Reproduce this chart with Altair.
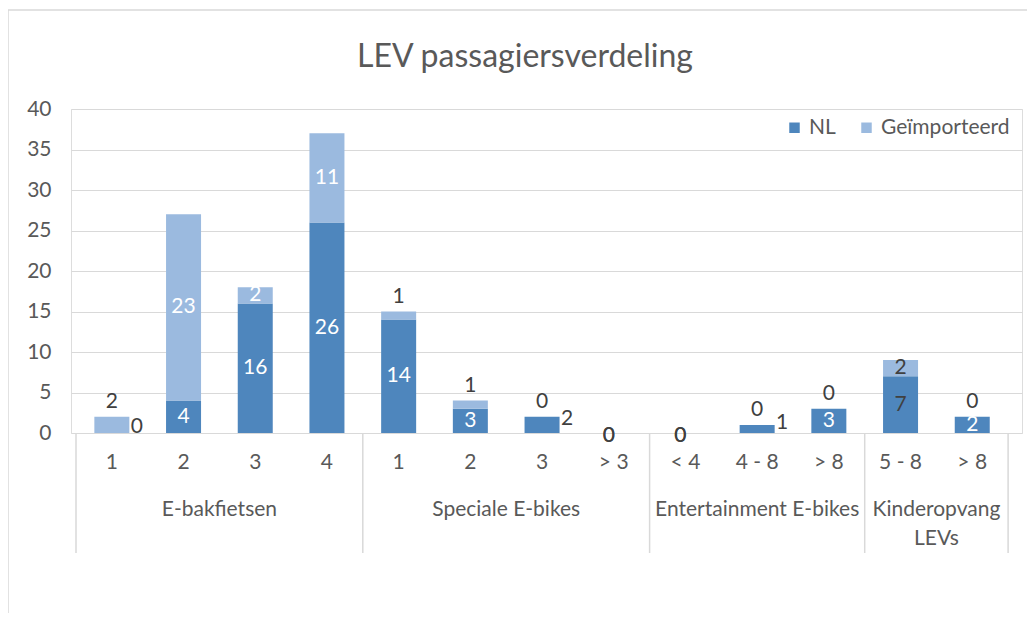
import altair as alt
import pandas as pd

TITLE = "LEV passagiersverdeling"
groups = ["E-bakfietsen", "Speciale E-bikes", "Entertainment E-bikes", "Kinderopvang\nLEVs"]
group_sizes = [4, 4, 3, 2]
subcats = ["1", "2", "3", "4", "1", "2", "3", "> 3", "< 4", "4 - 8", "> 8", "5 - 8", "> 8"]
series = ["NL", "Geïmporteerd"]
nl = [0, 4, 16, 26, 14, 3, 2, 0, 0, 1, 3, 7, 2]
imp = [2, 23, 2, 11, 1, 1, 0, 0, 0, 0, 0, 2, 0]
# label placement style per bar (mimicking the Excel layout)
nl_mode = ["right", "in", "in", "in", "in", "in", "right", "base", "base", "right", "in", "in_dark", "in"]
imp_mode = ["above", "in", "in", "in", "above", "above", "above", "base", "base", "above", "above", "in_dark", "above"]

colors = ["#4E86BD", "#9BBADF"]
TXT = "#595959"
DARK = "#404040"
GRID = "#D9D9D9"
FONT = "Lato"
FS = 21
W, H = 951, 324
PADL, PADT = 63, 101

n = len(subcats)
rows = []
lab = []
for i in range(n):
    rows.append({"idx": i, "series": "NL", "y0": 0, "y1": nl[i], "ord": 0})
    rows.append({"idx": i, "series": "Geïmporteerd", "y0": nl[i], "y1": nl[i] + imp[i], "ord": 1})
    for val, base, mode in ((nl[i], 0, nl_mode[i]), (imp[i], nl[i], imp_mode[i])):
        if mode in ("in", "in_dark", "right"):
            pos = base + val / 2
        elif mode == "above":
            pos = nl[i] + imp[i]
        else:
            pos = 0
        lab.append({"idx": i, "text": str(val), "pos": pos, "mode": mode})
bars = pd.DataFrame(rows)
labels = pd.DataFrame(lab)
ticks = pd.DataFrame({"idx": list(range(n)), "sub": subcats})

centers, bounds = [], [-0.5]
start = 0
for g, s in zip(groups, group_sizes):
    centers.append(start + (s - 1) / 2)
    start += s
    bounds.append(start - 0.5)
grp = pd.DataFrame({"center": centers, "name": groups})
sep = pd.DataFrame({"b": bounds})

# category bands are 72.5px; the gridlines run a little past the last band
xscale = alt.Scale(domain=[-0.5, n - 0.5 + 9 / 72.5], nice=False, zero=False)
yscale = alt.Scale(domain=[0, 40], nice=False)

base_bar = alt.Chart(bars).mark_bar(size=35).encode(
    x=alt.X("idx:Q", scale=xscale, axis=None),
    y=alt.Y("y0:Q", scale=yscale, title=None,
            axis=alt.Axis(values=list(range(0, 41, 5)), domain=False, ticks=False,
                          labelFontSize=FS, labelColor=TXT, labelPadding=20,
                          gridColor=GRID, gridWidth=1.2, labelFont=FONT)),
    y2="y1:Q",
    color=alt.Color("series:N", scale=alt.Scale(domain=series, range=colors),
                    legend=alt.Legend(title=None, orient="none", legendX=713, legendY=8,
                                      direction="horizontal", symbolType="square",
                                      symbolSize=110, symbolStrokeWidth=0,
                                      labelFontSize=FS, labelColor=TXT, labelFont=FONT,
                                      columnPadding=20, symbolOffset=0)),
    order="ord:Q",
)

def text_layer(mode, color, dx=0, dy=0, align="center"):
    return alt.Chart(labels).transform_filter(alt.datum.mode == mode).mark_text(
        fontSize=FS, font=FONT, color=color, dx=dx, dy=dy, align=align, baseline="middle"
    ).encode(
        x=alt.X("idx:Q", scale=xscale, axis=None),
        y=alt.Y("pos:Q", scale=yscale),
        text="text:N",
    )

t_in = text_layer("in", "white")
t_in_dark = text_layer("in_dark", DARK)
t_above = text_layer("above", DARK, dy=-15)
t_right = text_layer("right", DARK, dx=25, dy=-6)
t_base = text_layer("base", DARK, dx=-5, dy=3)

tick_txt = alt.Chart(ticks).mark_text(fontSize=FS, font=FONT, color=TXT, baseline="middle").encode(
    x=alt.X("idx:Q", scale=xscale, axis=None), y=alt.value(H + 30), text="sub:N")

grp_txt = alt.Chart(grp).mark_text(fontSize=FS, font=FONT, color=TXT, baseline="top",
                                   lineBreak="\n", lineHeight=29).encode(
    x=alt.X("center:Q", scale=xscale, axis=None), y=alt.value(H + 66), text="name:N")

sep_rule = alt.Chart(sep).mark_rule(color=GRID, strokeWidth=1.5).encode(
    x=alt.X("b:Q", scale=xscale, axis=None), y=alt.value(H), y2=alt.value(H + 120))

title_txt = alt.Chart(pd.DataFrame({"t": [TITLE]})).mark_text(
    fontSize=32, font=FONT, color=TXT, baseline="middle").encode(
    x=alt.value(454), y=alt.value(-52), text="t:N")

frame_left = alt.Chart(pd.DataFrame({"a": [0]})).mark_rule(color=GRID, strokeWidth=1.5).encode(
    x=alt.value(-PADL), y=alt.value(-99), y2=alt.value(H + 230))
frame_top = alt.Chart(pd.DataFrame({"a": [0]})).mark_rule(color=GRID, strokeWidth=1.5).encode(
    x=alt.value(-PADL), x2=alt.value(W + 20), y=alt.value(-99))

chart = alt.layer(
    frame_left, frame_top, title_txt, sep_rule, base_bar,
    t_in, t_in_dark, t_above, t_right, t_base, tick_txt, grp_txt
).properties(
    width=W, height=H,
    autosize=alt.AutoSizeParams(type="none"),
    padding={"left": PADL, "top": PADT, "right": 5, "bottom": 180},
).configure_view(stroke=None).configure(font=FONT)

chart.save("out.html", embed_options={"renderer": "svg", "actions": False})
